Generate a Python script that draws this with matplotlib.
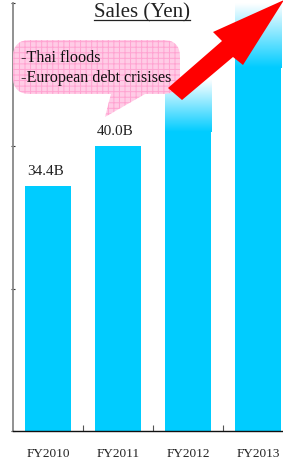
import matplotlib
matplotlib.use("Agg")
import matplotlib.pyplot as plt
import numpy as np
from matplotlib.patches import FancyBboxPatch, Polygon
from matplotlib.colors import LinearSegmentedColormap
from matplotlib.lines import Line2D

categories = ["FY2010", "FY2011", "FY2012", "FY2013"]
sales = [34.4, 40.0, 49.3, 60.0]
value_labels = ["34.4B", "40.0B", "", ""]
faded = [False, False, True, True]
title = "Sales (Yen)"
bubble_lines = ["-Thai floods", "-European debt crisises"]

W, H = 283, 459
plt.rcParams['font.family'] = ['Liberation Serif', 'DejaVu Serif']
plt.rcParams['hatch.linewidth'] = 0.7
fig = plt.figure(figsize=(W / 100, H / 100), dpi=100)

def P(x, y):
    return (x / W, 1 - y / H)

cyan = "#00CCFF"
ax = fig.add_axes([13 / W, (H - 431) / H, 280 / W, (431 - 3.5) / H])
x = np.arange(len(categories))
bw = 0.67
bars = ax.bar(x, sales, width=bw, color=cyan, zorder=2)
cmap = LinearSegmentedColormap.from_list("fade", [cyan, "#FFFFFF"])
grad = np.linspace(0, 1, 200).reshape(-1, 1)
for xi, v, f in zip(x, sales, faded):
    if f:
        ax.imshow(grad, cmap=cmap, origin="lower", aspect="auto",
                  extent=[xi - bw / 2, xi + bw / 2, v * 0.85, v], zorder=3,
                  interpolation="bilinear")
for xi, v, lab in zip(x, sales, value_labels):
    if lab:
        ax.annotate(lab, (xi, v), xytext=(-2, 6), textcoords="offset points",
                    ha="center", va="bottom", fontsize=11, color="#222222")

ax.set_xlim(-0.5, 3.5)
ax.set_ylim(0, 60)
ax.set_xticks(x)
ax.set_xticklabels(categories, fontsize=9.5, color="#222222")
ax.set_xticks([0.5, 1.5, 2.5], minor=True)
ax.tick_params(axis="x", which="major", length=0, pad=12)
ax.tick_params(axis="x", which="minor", direction="in", length=4, width=0.8, color="#555555")
ax.set_yticks([0, 20, 40, 60])
ax.set_yticklabels([])
ax.tick_params(axis="y", direction="inout", length=3, width=0.8, color="#333333")
for s in ["top", "right"]:
    ax.spines[s].set_visible(False)
ax.spines["left"].set_color("#888888")
ax.spines["left"].set_linewidth(1.3)
ax.spines["bottom"].set_color("#111111")
ax.spines["bottom"].set_linewidth(1.0)
ax.set_facecolor("none")

# title with underline
t = fig.text(*P(141.5, 17), title, ha="center", va="baseline", fontsize=15, color="#222222")
fig.canvas.draw()
bb = t.get_window_extent()
fig.add_artist(Line2D([bb.x0 / W, bb.x1 / W], [P(0, 20)[1]] * 2, color="#222222", lw=0.9,
                      transform=fig.transFigure))

# speech bubble
pink = "#FFCCE6"
hatchc = "#FFA3D1"
tail = Polygon([P(112, 90), P(152, 90), P(105, 117)], closed=True, transform=fig.transFigure,
               facecolor=pink, edgecolor=hatchc, hatch="+++", lw=0, zorder=4)
fig.add_artist(tail)
x0, y0 = P(13, 94)
x1, y1 = P(180, 40)
bub = FancyBboxPatch((x0, y0), x1 - x0, y1 - y0,
                     boxstyle="round,pad=0,rounding_size=0.06", transform=fig.transFigure,
                     facecolor=pink, edgecolor=hatchc, hatch="+++", lw=0, zorder=4,
                     mutation_aspect=W / H)
fig.add_artist(bub)
for i, line in enumerate(bubble_lines):
    fig.text(*P(21, 58 + 20 * i), line, ha="left", va="center", fontsize=11.6,
             color="#111111", zorder=5)

# red arrow
arrow = Polygon([P(168, 88), P(222, 41), P(213, 32), P(284, 0), P(243, 65), P(233, 57), P(182, 100)],
                closed=True, transform=fig.transFigure, facecolor="#FF0000", edgecolor="none", zorder=6)
fig.add_artist(arrow)

fig.savefig("out.png", dpi=100)
